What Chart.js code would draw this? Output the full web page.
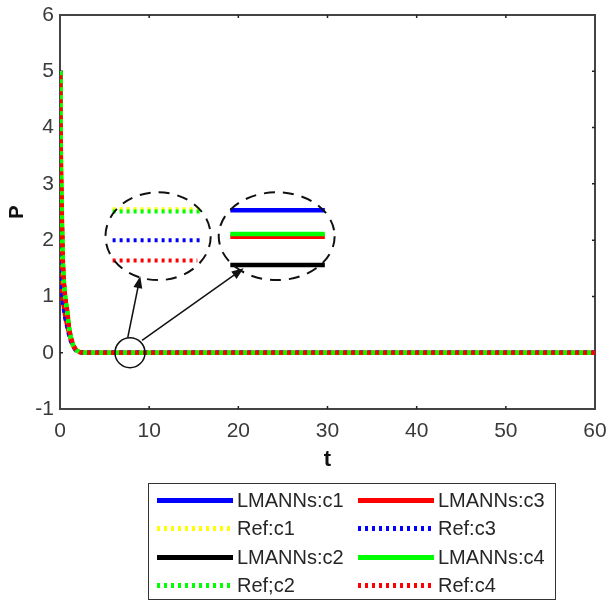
<!DOCTYPE html>
<html>
<head>
<meta charset="utf-8">
<script src="https://cdn.jsdelivr.net/npm/chart.js@4"></script>
<style>
html, body { margin: 0; padding: 0; background: #fff; }
#wrap { position: relative; width: 609px; height: 603px; }
#legend { position: absolute; left: 148px; top: 483px; width: 406px; height: 115px; border: 1.5px solid #333;
  font: 20px "Liberation Sans", Arial, sans-serif; color: #262626; }
.item { position: absolute; height: 24px; display: flex; align-items: center; white-space: nowrap; }
.smp { width: 76px; height: 5px; margin-right: 4px; }
</style>
</head>
<body>
<div id="wrap">
  <canvas id="chart" width="609" height="603"></canvas>
  <div id="legend"></div>
</div>
<script>
// time samples (t) and solution values P(t) for each case
const tValues = [0, 0.05, 0.1, 0.2, 0.3, 0.4, 0.6, 0.8, 1, 1.2, 1.5, 1.8, 2.2, 3, 5, 10, 15, 20, 25, 30, 35, 40, 45, 50, 55, 60];
const pCase1 = [5, 4.2, 3.5, 2.5, 1.7, 1.3, 0.95, 0.75, 0.45, 0.28, 0.12, 0.05, 0.01, 0, 0, 0, 0, 0, 0, 0, 0, 0, 0, 0, 0, 0];
const pCase2 = [5, 4.25, 3.45, 2.45, 1.72, 1.32, 0.96, 0.74, 0.46, 0.28, 0.12, 0.05, 0.01, 0, 0, 0, 0, 0, 0, 0, 0, 0, 0, 0, 0, 0];
const pCase3 = [2.2, 1.85, 1.55, 1.2, 0.98, 0.82, 0.62, 0.48, 0.34, 0.22, 0.11, 0.04, 0.01, 0, 0, 0, 0, 0, 0, 0, 0, 0, 0, 0, 0, 0];
const pCase4 = [5, 4.2, 3.5, 2.5, 1.7, 1.3, 0.95, 0.75, 0.45, 0.28, 0.12, 0.05, 0.01, 0, 0, 0, 0, 0, 0, 0, 0, 0, 0, 0, 0, 0];

const xTicks = [0, 10, 20, 30, 40, 50, 60];
const yTicks = [-1, 0, 1, 2, 3, 4, 5, 6];

// legend order (column-major, as in the figure)
const seriesLabels = ['LMANNs:c1', 'Ref:c1', 'LMANNs:c2', 'Ref;c2', 'LMANNs:c3', 'Ref:c3', 'LMANNs:c4', 'Ref:c4'];
const seriesColors = ['#0000ff', '#ffff00', '#000000', '#00ff00', '#ff0000', '#0000ff', '#00ff00', '#ff0000'];
const seriesDotted = [false, true, false, true, false, true, false, true];
const seriesValues = [pCase1, pCase1, pCase2, pCase2, pCase3, pCase3, pCase4, pCase4];
const seriesOrder = [7, 3, 6, 1, 5, 2, 4, 0]; // lower = drawn on top

// zoom insets, in data units (t, P)
const insetEllipses = [
    { t: 11.0, p: 2.07, rt: 5.9, rp: 0.78 },
    { t: 24.3, p: 2.07, rt: 6.5, rp: 0.78 }
];
const insetLines = [
    { t0: 5.9, t1: 15.7, p: 2.55, color: '#ffff00', dotted: true },
    { t0: 5.9, t1: 15.7, p: 2.51, color: '#00ff00', dotted: true },
    { t0: 5.9, t1: 15.7, p: 2.0, color: '#0000ff', dotted: true },
    { t0: 5.9, t1: 15.4, p: 1.64, color: '#ff0000', dotted: true },
    { t0: 19.1, t1: 29.7, p: 2.53, color: '#0000ff', dotted: false },
    { t0: 19.1, t1: 29.7, p: 2.06, color: '#ff0000', dotted: false },
    { t0: 19.1, t1: 29.7, p: 2.11, color: '#00ff00', dotted: false },
    { t0: 19.1, t1: 29.7, p: 1.56, color: '#000000', dotted: false }
];
const zoomCircle = { t: 7.85, p: 0 };
const insetArrows = [
    { t0: 7.6, p0: 0.27, t1: 9.0, p1: 1.36 },
    { t0: 9.2, p0: 0.22, t1: 20.6, p1: 1.5 }
];

const FONT = '"Liberation Sans", Arial, sans-serif';

const datasets = seriesLabels.map((label, i) => ({
    label: label,
    data: tValues.map((t, k) => ({ x: t, y: seriesValues[i][k] })),
    borderColor: seriesColors[i],
    borderWidth: seriesDotted[i] ? 4.5 : 4,
    borderDash: seriesDotted[i] ? [4, 4] : [],
    borderDashOffset: label === 'Ref:c4' ? 4 : 0,
    pointRadius: 0,
    tension: 0,
    fill: false,
    order: seriesOrder[i]
}));

const framePlugin = {
    id: 'frame',
    beforeDatasetsDraw(chart) {
        const { ctx, chartArea: a, scales: { x, y } } = chart;
        ctx.save();
        ctx.strokeStyle = '#444';
        ctx.lineWidth = 2;
        ctx.strokeRect(a.left, a.top, a.right - a.left, a.bottom - a.top);
        ctx.lineWidth = 1.5;
        ctx.strokeStyle = '#222';
        xTicks.slice(1, -1).forEach(v => {
            const px = x.getPixelForValue(v);
            ctx.beginPath();
            ctx.moveTo(px, a.bottom); ctx.lineTo(px, a.bottom - 3);
            ctx.moveTo(px, a.top); ctx.lineTo(px, a.top + 3);
            ctx.stroke();
        });
        yTicks.slice(1, -1).forEach(v => {
            const py = y.getPixelForValue(v);
            ctx.beginPath();
            ctx.moveTo(a.left, py); ctx.lineTo(a.left + 3, py);
            ctx.moveTo(a.right, py); ctx.lineTo(a.right - 3, py);
            ctx.stroke();
        });
        ctx.restore();
    }
};

function arrow(ctx, x0, y0, x1, y1) {
    const ang = Math.atan2(y1 - y0, x1 - x0);
    ctx.beginPath();
    ctx.moveTo(x0, y0);
    ctx.lineTo(x1 - 8 * Math.cos(ang), y1 - 8 * Math.sin(ang));
    ctx.stroke();
    ctx.beginPath();
    ctx.moveTo(x1, y1);
    ctx.lineTo(x1 - 12 * Math.cos(ang) + 4.5 * Math.sin(ang), y1 - 12 * Math.sin(ang) - 4.5 * Math.cos(ang));
    ctx.lineTo(x1 - 12 * Math.cos(ang) - 4.5 * Math.sin(ang), y1 - 12 * Math.sin(ang) + 4.5 * Math.cos(ang));
    ctx.closePath();
    ctx.fill();
}

const insetPlugin = {
    id: 'insets',
    afterDatasetsDraw(chart) {
        const { ctx, scales: { x, y } } = chart;
        ctx.save();
        // coloured lines inside the zoom bubbles
        insetLines.forEach(l => {
            ctx.strokeStyle = l.color;
            ctx.lineWidth = l.dotted ? 4 : 4.5;
            ctx.setLineDash(l.dotted ? [3, 4] : []);
            const py = y.getPixelForValue(l.p);
            ctx.beginPath();
            ctx.moveTo(x.getPixelForValue(l.t0), py);
            ctx.lineTo(x.getPixelForValue(l.t1), py);
            ctx.stroke();
        });
        // dashed bubbles
        ctx.strokeStyle = '#111';
        ctx.lineWidth = 2;
        ctx.setLineDash([11, 8]);
        insetEllipses.forEach(e => {
            const cx = x.getPixelForValue(e.t), cy = y.getPixelForValue(e.p);
            const rx = x.getPixelForValue(e.t + e.rt) - cx;
            const ry = cy - y.getPixelForValue(e.p + e.rp);
            ctx.beginPath();
            ctx.ellipse(cx, cy, rx, ry, 0, 0, Math.PI * 2);
            ctx.stroke();
        });
        // small circle and arrows
        ctx.setLineDash([]);
        ctx.lineWidth = 1.5;
        ctx.fillStyle = '#111';
        ctx.beginPath();
        ctx.arc(x.getPixelForValue(zoomCircle.t), y.getPixelForValue(zoomCircle.p), 15, 0, Math.PI * 2);
        ctx.stroke();
        insetArrows.forEach(a => {
            arrow(ctx, x.getPixelForValue(a.t0), y.getPixelForValue(a.p0), x.getPixelForValue(a.t1), y.getPixelForValue(a.p1));
        });
        ctx.restore();
    }
};

new Chart(document.getElementById('chart'), {
    type: 'line',
    data: { datasets: datasets },
    options: {
        responsive: false,
        animation: false,
        layout: { padding: { left: 0, top: 15, right: 14, bottom: 124 } },
        plugins: { legend: { display: false }, tooltip: { enabled: false } },
        scales: {
            x: {
                type: 'linear', min: 0, max: 60,
                afterFit: s => { s.height = 70; s.paddingLeft = 0; s.paddingRight = 0; },
                grid: { display: false, drawTicks: false },
                border: { display: false },
                ticks: { stepSize: 10, padding: 10, color: '#3a3a3a', maxRotation: 0,
                    font: { family: FONT, size: 21 } },
                title: { display: true, text: 't', color: '#111', padding: { top: 0, bottom: 6 },
                    font: { family: FONT, size: 22, weight: 'bold' } }
            },
            y: {
                type: 'linear', min: -1, max: 6,
                afterFit: s => { s.width = 60; s.paddingTop = 0; s.paddingBottom = 0; },
                grid: { display: false, drawTicks: false },
                border: { display: false },
                ticks: { stepSize: 1, padding: 6, color: '#3a3a3a',
                    font: { family: FONT, size: 21 } },
                title: { display: true, text: 'P', color: '#111', padding: { top: 5, bottom: 0 },
                    font: { family: FONT, size: 20, weight: 'bold' } }
            }
        }
    },
    plugins: [framePlugin, insetPlugin]
});

// legend box, two columns filled top to bottom
const legendEl = document.getElementById('legend');
seriesLabels.forEach((label, i) => {
    const col = Math.floor(i / 4), row = i % 4;
    const item = document.createElement('div');
    item.className = 'item';
    item.style.left = (col === 0 ? 8 : 209) + 'px';
    item.style.top = (4 + row * 28.5) + 'px';
    const smp = document.createElement('div');
    smp.className = 'smp';
    smp.style.background = seriesDotted[i]
        ? `repeating-linear-gradient(to right, ${seriesColors[i]} 0 3px, transparent 3px 7px)`
        : seriesColors[i];
    const txt = document.createElement('span');
    txt.textContent = label;
    item.appendChild(smp);
    item.appendChild(txt);
    legendEl.appendChild(item);
});
</script>
</body>
</html>
